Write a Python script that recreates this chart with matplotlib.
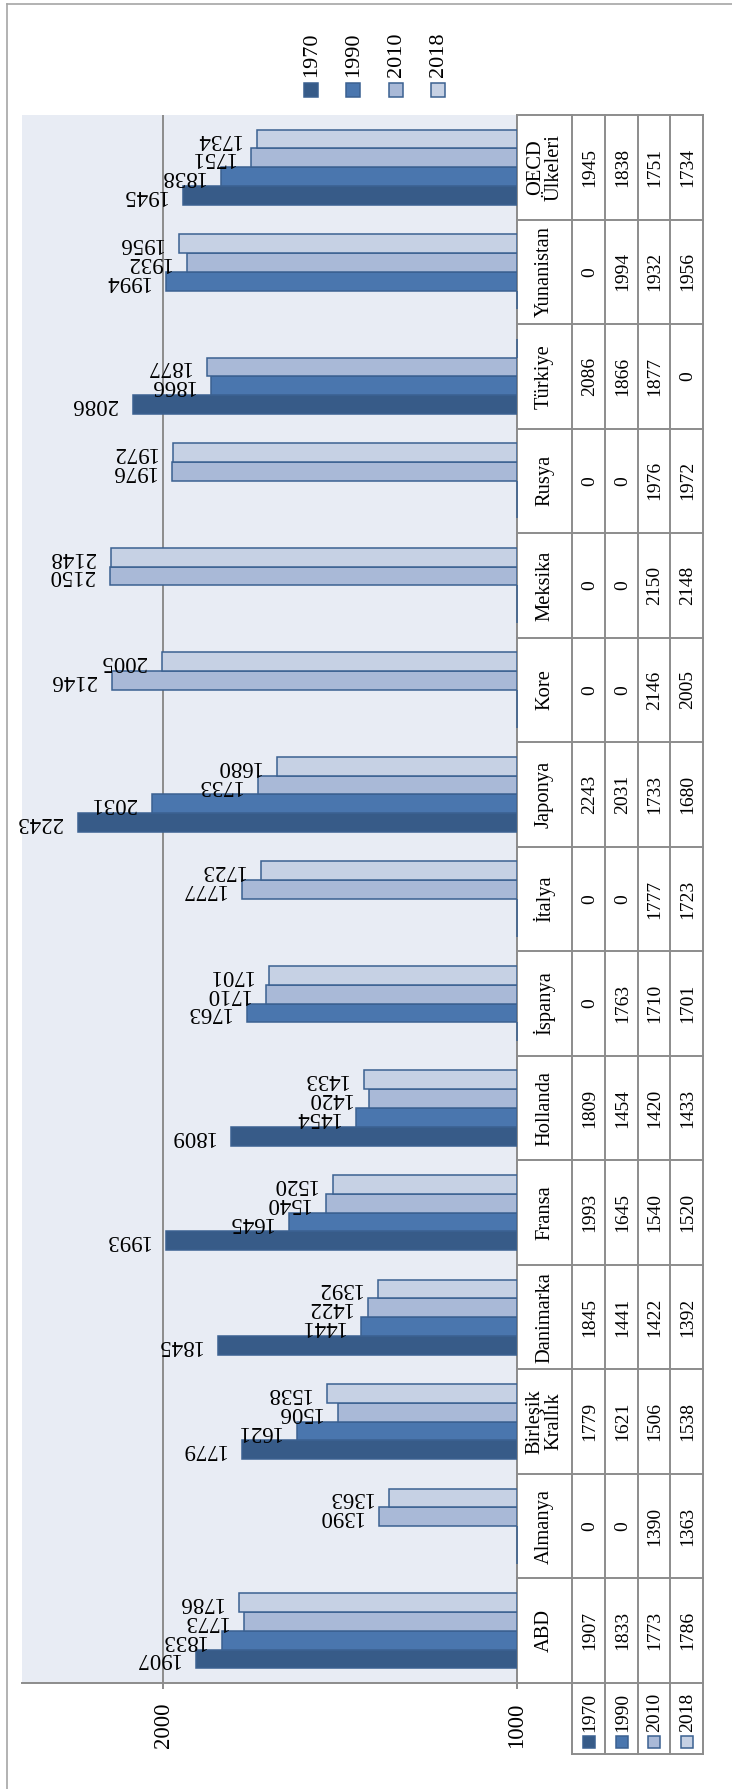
import numpy as np
import matplotlib
matplotlib.use("Agg")
import matplotlib.pyplot as plt
from matplotlib.patches import Rectangle
from matplotlib.lines import Line2D
from matplotlib.transforms import IdentityTransform, blended_transform_factory

# categories listed bottom -> top (the chart is turned on its side)
countries = ["ABD", "Almanya", "Birleşik\nKrallık", "Danimarka", "Fransa", "Hollanda",
             "İspanya", "İtalya", "Japonya", "Kore", "Meksika", "Rusya", "Türkiye",
             "Yunanistan", "OECD\nÜlkeleri"]
years = ["1970", "1990", "2010", "2018"]
hours_1970 = [1907, 0, 1779, 1845, 1993, 1809, 0, 0, 2243, 0, 0, 0, 2086, 0, 1945]
hours_1990 = [1833, 0, 1621, 1441, 1645, 1454, 1763, 0, 2031, 0, 0, 0, 1866, 1994, 1838]
hours_2010 = [1773, 1390, 1506, 1422, 1540, 1420, 1710, 1777, 1733, 2146, 2150, 1976, 1877, 1932, 1751]
hours_2018 = [1786, 1363, 1538, 1392, 1520, 1433, 1701, 1723, 1680, 2005, 2148, 1972, 0, 1956, 1734]
series = [hours_1970, hours_1990, hours_2010, hours_2018]
axis_min, axis_max = 1000, 2400
ticks = [1000, 2000]

colors = ["#375b88", "#4a76ae", "#a9b9d7", "#c6d1e4"]
edge = "#3b6191"
grey = "#8c8c8c"

W, H = 732, 1789
plt.rcParams["font.family"] = ["Liberation Serif", "DejaVu Serif"]
fig = plt.figure(figsize=(W / 100, H / 100), dpi=100)


def iy(y_img):
    # image pixel row -> display y
    return H - y_img


# plot area, in pixels
pl, pr, pt, pb = 22, 517, 115, 1683
ax = fig.add_axes([pl / W, 1 - pb / H, (pr - pl) / W, (pb - pt) / H])
ax.set_facecolor("#e8ecf4")

y = np.arange(len(countries))
bar_h = 0.18
for i, vals in enumerate(series):
    pos = y + (i - 1.5) * bar_h
    widths = [v - axis_min if v > 0 else 0 for v in vals]
    bars = ax.barh(pos, widths, left=axis_min, height=bar_h, color=colors[i],
                   edgecolor=edge, linewidth=1.1, zorder=3)
    for b, v in zip(bars, vals):
        if v > 0:
            ax.annotate(str(v), (v, b.get_y() + b.get_height() / 2),
                        xytext=(-11.5, 0), textcoords="offset points",
                        rotation=180, ha="right", va="center", fontsize=16.5)
        else:
            # zero values only leave a thin edge on the axis
            b.set_clip_on(False)
            b.set_zorder(4)

ax.set_xlim(axis_max, axis_min)
ax.set_ylim(-0.5, len(countries) - 0.5)
ax.set_yticks([])
ax.set_xticks(ticks)
ax.set_xticklabels([str(t) for t in ticks])
ax.tick_params(axis="x", length=4.3, width=1.4, color=grey, pad=10,
               labelsize=16.5, labelrotation=90)
ax.xaxis.grid(True, color=grey, linewidth=1.4)
ax.set_axisbelow(True)
for side in ["top", "left"]:
    ax.spines[side].set_visible(False)
for side in ["bottom", "right"]:
    ax.spines[side].set_color(grey)
    ax.spines[side].set_linewidth(1.4)

# data table on the right side
trans = blended_transform_factory(IdentityTransform(), ax.transData)
col_x = [517, 572, 605, 638, 670, 703]
n = len(countries)
for k in range(n + 1):
    ax.add_line(Line2D([col_x[0], col_x[-1]], [k - 0.5, k - 0.5], transform=trans,
                       color=grey, lw=1.4, clip_on=False))
for cx in col_x[1:]:
    ax.add_line(Line2D([cx, cx], [-0.5, n - 0.5], transform=trans,
                       color=grey, lw=1.4, clip_on=False))
for k, name in enumerate(countries):
    ax.text((col_x[0] + col_x[1]) / 2, k, name, transform=trans, rotation=90,
            ha="center", va="center", multialignment="center", fontsize=14.8,
            linespacing=0.95)
    for j, vals in enumerate(series):
        ax.text((col_x[j + 1] + col_x[j + 2]) / 2 + 1, k, str(vals[k]), transform=trans,
                rotation=90, ha="center", va="center", fontsize=14)

# legend row under the table
leg_top, leg_bot = 1683, 1754
idt = IdentityTransform()
fig.add_artist(Line2D([col_x[1], col_x[-1]], [iy(leg_bot), iy(leg_bot)],
                      transform=idt, color=grey, lw=1.4))
for cx in col_x[1:]:
    fig.add_artist(Line2D([cx, cx], [iy(leg_top), iy(leg_bot)], transform=idt,
                          color=grey, lw=1.4))
for j, yr in enumerate(years):
    cx = (col_x[j + 1] + col_x[j + 2]) / 2
    fig.add_artist(Rectangle((cx - 6, iy(1748)), 12, 12, transform=idt,
                             facecolor=colors[j], edgecolor=edge, lw=1.1))
    fig.text(cx + 1, iy(1732), yr, transform=idt, rotation=90,
             ha="center", va="bottom", fontsize=14)

# top legend
leg_x = [311, 353, 396, 438]
for j, yr in enumerate(years):
    fig.add_artist(Rectangle((leg_x[j] - 7, iy(97)), 14, 14, transform=idt,
                             facecolor=colors[j], edgecolor=edge, lw=1.1))
    fig.text(leg_x[j] + 1, iy(77), yr, transform=idt, rotation=90,
             ha="center", va="bottom", fontsize=16)

# chart border (only top and left are in frame)
fig.add_artist(Line2D([7, W], [iy(4), iy(4)], transform=idt, color="#a6a6a6", lw=1.2))
fig.add_artist(Line2D([7, 7], [iy(4), 0], transform=idt, color="#a6a6a6", lw=1.2))

fig.savefig("out.png", dpi=100)
